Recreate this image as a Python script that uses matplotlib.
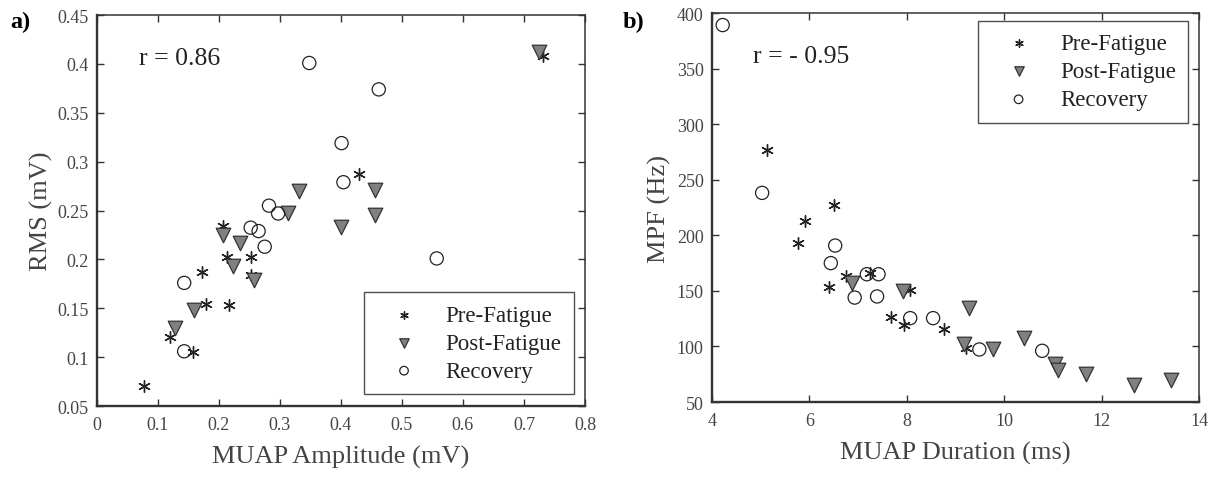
import matplotlib
matplotlib.use("Agg")
import matplotlib.pyplot as plt

plt.rcParams['font.family'] = ['Liberation Serif', 'DejaVu Serif']

# ---- Panel a) data ----
a_pre_x = [0.077, 0.120, 0.157, 0.172, 0.179, 0.207, 0.213, 0.216, 0.252, 0.252, 0.430, 0.731]
a_pre_y = [0.070, 0.121, 0.105, 0.187, 0.154, 0.234, 0.202, 0.153, 0.202, 0.184, 0.287, 0.408]
a_post_x = [0.128, 0.159, 0.207, 0.223, 0.235, 0.257, 0.313, 0.331, 0.400, 0.455, 0.455, 0.725]
a_post_y = [0.130, 0.148, 0.2245, 0.193, 0.217, 0.179, 0.248, 0.270, 0.233, 0.271, 0.245, 0.412]
a_rec_x = [0.143, 0.143, 0.252, 0.265, 0.275, 0.282, 0.297, 0.348, 0.401, 0.404, 0.462, 0.557]
a_rec_y = [0.106, 0.176, 0.2325, 0.229, 0.213, 0.255, 0.247, 0.401, 0.319, 0.279, 0.374, 0.201]

# ---- Panel b) data ----
b_pre_x = [5.13, 6.505, 5.92, 5.76, 6.40, 6.745, 7.245, 7.676, 7.94, 8.07, 8.76, 9.22]
b_pre_y = [276.8, 227.4, 212.7, 193.0, 153.9, 163.8, 166.2, 126.4, 119.5, 151.0, 115.9, 98.9]
b_post_x = [6.88, 7.93, 9.28, 9.18, 9.76, 10.40, 11.05, 11.10, 11.68, 12.67, 13.42]
b_post_y = [157.0, 150.3, 134.5, 101.8, 97.3, 107.8, 83.8, 78.4, 74.8, 65.0, 69.4]
b_rec_x = [4.22, 5.03, 6.53, 6.44, 7.18, 7.42, 6.93, 7.39, 8.07, 8.54, 9.49, 10.78]
b_rec_y = [389.2, 238.2, 190.8, 175.0, 165.0, 165.0, 144.0, 145.0, 125.5, 125.5, 97.3, 96.1]

labels = ['Pre-Fatigue', 'Post-Fatigue', 'Recovery']
a_xticks = [0, 0.1, 0.2, 0.3, 0.4, 0.5, 0.6, 0.7, 0.8]
a_xticklabels = ['0', '0.1', '0.2', '0.3', '0.4', '0.5', '0.6', '0.7', '0.8']
a_yticks = [0.05, 0.1, 0.15, 0.2, 0.25, 0.3, 0.35, 0.4, 0.45]
a_yticklabels = ['0.05', '0.1', '0.15', '0.2', '0.25', '0.3', '0.35', '0.4', '0.45']
b_xticks = [4, 6, 8, 10, 12, 14]
b_yticks = [50, 100, 150, 200, 250, 300, 350, 400]

fig = plt.figure(figsize=(12.21, 4.85), dpi=100)
axA = fig.add_axes([0.0794, 0.1608, 0.3997, 0.806])
axB = fig.add_axes([0.5831, 0.169, 0.3989, 0.802])

asterisk = (6, 2, 0)
spine_col = '#333333'
txt_col = '#444444'

def draw(ax, px, py, qx, qy, rx, ry):
    ax.scatter(px, py, marker=asterisk, s=70, color='#222222', linewidths=1.0,
               label=labels[0], zorder=3)
    ax.scatter(qx, qy, marker='v', s=110, facecolor='#808080', edgecolor='#333333',
               linewidths=0.9, label=labels[1], zorder=3)
    ax.scatter(rx, ry, marker='o', s=90, facecolor='none', edgecolor='#222222',
               linewidths=0.9, label=labels[2], zorder=3)
    ax.tick_params(direction='in', top=True, right=True, length=5, width=1.0,
                   labelsize=13, colors=spine_col, labelcolor=txt_col)
    ax.tick_params(axis='y', pad=6)
    ax.tick_params(axis='x', pad=7)
    for name, sp in ax.spines.items():
        sp.set_color(spine_col)
        sp.set_linewidth(1.7 if name in ('left', 'bottom') else 1.1)

def legend(ax, loc, anchor):
    leg = ax.legend(loc=loc, fontsize=16.5, markerscale=0.65, frameon=True,
                    fancybox=False, edgecolor='#222222', handletextpad=0.6,
                    borderpad=0.55, labelspacing=0.3, handlelength=2.4,
                    bbox_to_anchor=anchor, borderaxespad=0.0)
    leg.get_frame().set_linewidth(1.0)
    for t in leg.get_texts():
        t.set_color('#222222')
    return leg

draw(axA, a_pre_x, a_pre_y, a_post_x, a_post_y, a_rec_x, a_rec_y)
axA.set_xlim(0, 0.8)
axA.set_ylim(0.05, 0.45)
axA.set_xticks(a_xticks)
axA.set_xticklabels(a_xticklabels)
axA.set_yticks(a_yticks)
axA.set_yticklabels(a_yticklabels)
axA.set_xlabel('MUAP Amplitude (mV)', fontsize=19, color=txt_col, labelpad=9)
axA.set_ylabel('RMS (mV)', fontsize=19, color=txt_col, labelpad=3)
axA.text(0.086, 0.89, 'r = 0.86', transform=axA.transAxes, fontsize=18.5,
         color='#222222', va='center')
legend(axA, 'lower right', (0.977, 0.03))

draw(axB, b_pre_x, b_pre_y, b_post_x, b_post_y, b_rec_x, b_rec_y)
axB.set_xlim(4, 14)
axB.set_ylim(50, 400)
axB.set_xticks(b_xticks)
axB.set_yticks(b_yticks)
axB.set_xlabel('MUAP Duration (ms)', fontsize=19, color=txt_col, labelpad=9)
axB.set_ylabel('MPF (Hz)', fontsize=19, color=txt_col, labelpad=4)
axB.text(0.084, 0.89, 'r = - 0.95', transform=axB.transAxes, fontsize=18.5,
         color='#222222', va='center')
legend(axB, 'upper right', (0.978, 0.98))

fig.text(10 / 1221, 1 - 22 / 485, 'a)', fontsize=17.5, fontweight='bold', va='center')
fig.text(623 / 1221, 1 - 22 / 485, 'b)', fontsize=17.5, fontweight='bold', va='center')

fig.savefig('out.png', dpi=100)
